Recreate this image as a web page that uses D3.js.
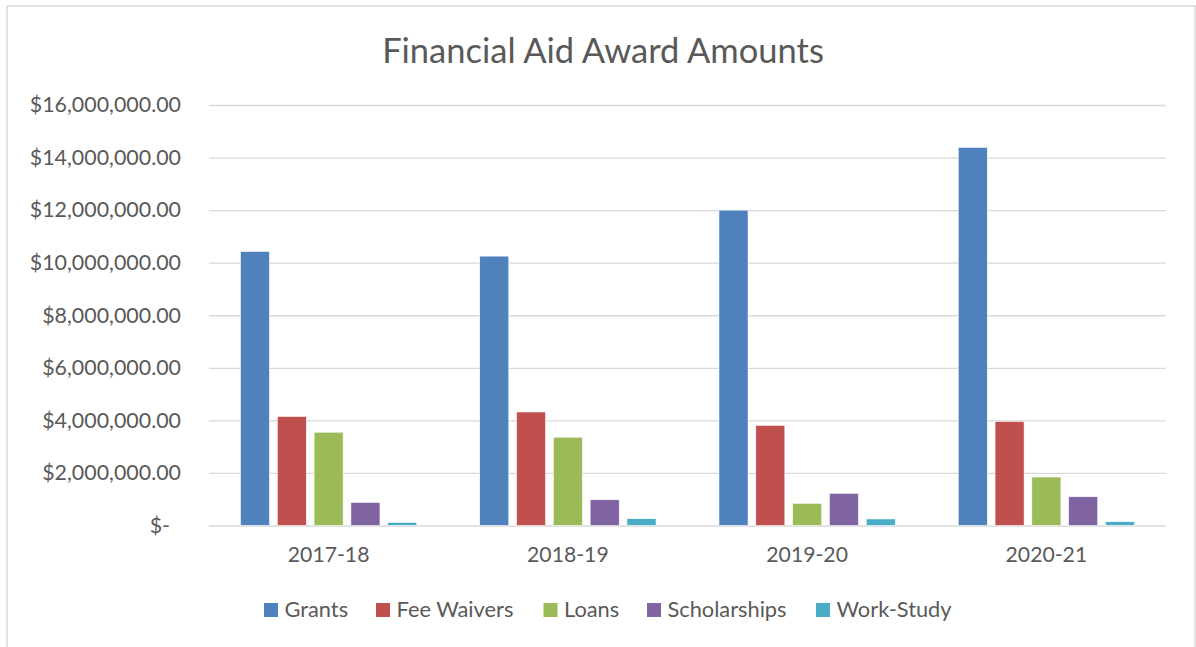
<!DOCTYPE html>
<html>
<head>
<meta charset="utf-8">
<script src="https://cdn.jsdelivr.net/npm/d3@7"></script>
<style>
  body { margin: 0; background: #fff; }
  text { font-family: Lato, "Open Sans", sans-serif; fill: #595959; }
</style>
</head>
<body>
<div class="chart"></div>
<script>
// data
var years = ["2017-18", "2018-19", "2019-20", "2020-21"];
var seriesNames = ["Grants", "Fee Waivers", "Loans", "Scholarships", "Work-Study"];
var grants = [10430000, 10250000, 12000000, 14390000];
var feeWaivers = [4150000, 4320000, 3810000, 3960000];
var loans = [3550000, 3360000, 845000, 1845000];
var scholarships = [880000, 980000, 1225000, 1095000];
var workStudy = [120000, 260000, 250000, 145000];
var yTicks = [0, 2000000, 4000000, 6000000, 8000000, 10000000, 12000000, 14000000, 16000000];
var colors = ["#4f81bd", "#c0504d", "#9bbb59", "#8064a2", "#4bacc6"];

var seriesValues = [grants, feeWaivers, loans, scholarships, workStudy];

// setup
var W = 1196, H = 647;
var margin = {top: 105, right: 30, bottom: 122, left: 209},
    w = 1166 - margin.left,
    h = 525.5 - margin.top;

var svg = d3.select(".chart")
    .append("svg")
    .attr("width", W)
    .attr("height", H);

// chart frame
svg.append("rect")
    .attr("x", 7).attr("y", 6)
    .attr("width", 1188).attr("height", 660)
    .style("fill", "#fff")
    .style("stroke", "#d9d9d9")
    .style("stroke-width", 1.5);

var g = svg.append("g")
    .attr("transform", "translate(" + margin.left + "," + margin.top + ")");

// scales
var x0 = d3.scaleBand().domain(years).range([0, w]).padding(0);
var x1 = d3.scaleBand().domain(seriesNames).range([0, x0.bandwidth()])
    .paddingInner(0.21).paddingOuter(0.855);
var y = d3.scaleLinear().domain([0, 16000000]).range([h, 0]);

var money = d3.format(",.2f");

// gridlines + y labels
var yAxis = d3.axisLeft(y)
    .tickValues(yTicks)
    .tickSize(-w)
    .tickPadding(28)
    .tickFormat(function(d) { return d === 0 ? "$-" : "$" + money(d); });

var yg = g.append("g").attr("class", "y-axis").call(yAxis);
yg.select(".domain").remove();
yg.selectAll(".tick line")
    .style("stroke", "#d9d9d9")
    .style("stroke-width", 1.3);
yg.selectAll(".tick text")
    .attr("font-size", 21.4)
    .attr("dx", function(d) { return d === 0 ? -11 : 0; });

// x labels
var xAxis = d3.axisBottom(x0).tickSize(0).tickPadding(21);
var xg = g.append("g")
    .attr("class", "x-axis")
    .attr("transform", "translate(0," + h + ")")
    .call(xAxis);
xg.select(".domain").remove();
xg.selectAll(".tick text").attr("font-size", 21.2);

// bars
var groups = g.selectAll(".year")
    .data(years)
  .enter().append("g")
    .attr("class", "year")
    .attr("transform", function(d) { return "translate(" + x0(d) + ",0)"; });

groups.selectAll("rect")
    .data(function(d, i) {
      return seriesNames.map(function(s, j) { return {name: s, value: seriesValues[j][i], c: colors[j]}; });
    })
  .enter().append("rect")
    .attr("x", function(d) { return x1(d.name); })
    .attr("width", x1.bandwidth())
    .attr("y", function(d) { return y(d.value); })
    .attr("height", function(d) { return h - y(d.value); })
    .style("fill", function(d) { return d.c; })
    .style("stroke", "#fff")
    .style("stroke-width", 0.6);

// title
svg.append("text")
    .attr("x", 603)
    .attr("y", 62.5)
    .attr("font-size", 34.5)
    .style("text-anchor", "middle")
    .text("Financial Aid Award Amounts");

// legend
var legendX = [264, 376, 543.5, 647, 816];
var legend = svg.selectAll(".legend")
    .data(seriesNames)
  .enter().append("g")
    .attr("class", "legend")
    .attr("transform", function(d, i) { return "translate(" + legendX[i] + ",603)"; });

legend.append("rect")
    .attr("width", 14)
    .attr("height", 14)
    .style("fill", function(d, i) { return colors[i]; });

legend.append("text")
    .attr("x", 20.5)
    .attr("y", 14)
    .attr("font-size", 21.8)
    .text(function(d) { return d; });
</script>
</body>
</html>
